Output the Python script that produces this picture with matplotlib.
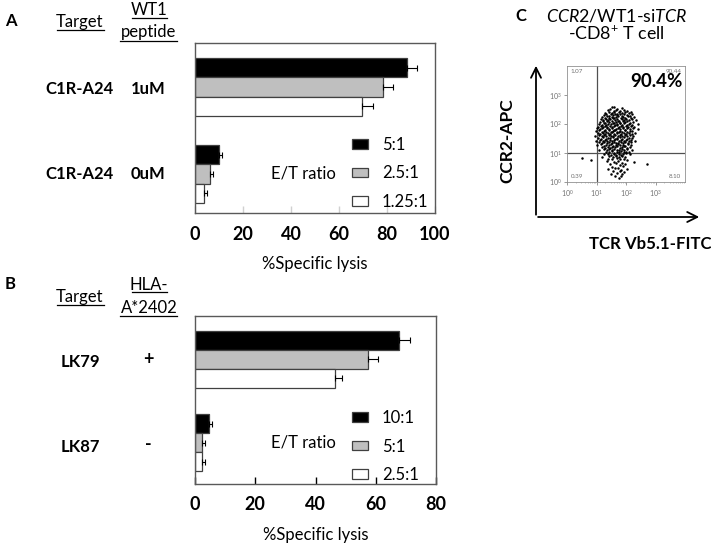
import numpy as np
import matplotlib
matplotlib.use("Agg")
import matplotlib.pyplot as plt
from matplotlib.patches import Patch, FancyArrowPatch
from matplotlib.lines import Line2D

plt.rcParams['font.family'] = ['Lato', 'DejaVu Sans']
plt.rcParams['mathtext.fontset'] = 'custom'
plt.rcParams['mathtext.rm'] = 'Lato'
plt.rcParams['mathtext.it'] = 'Lato:italic'
plt.rcParams['mathtext.bf'] = 'Lato:bold'

# ---------------- data ----------------
# Panel A
a_targets = ["C1R-A24", "C1R-A24"]
a_peptide = ["1uM", "0uM"]
a_ratios = ["5:1", "2.5:1", "1.25:1"]
a_values = [[88.2, 10.1], [78.2, 6.3], [69.5, 3.9]]
a_errors = [[4.2, 1.0], [4.4, 1.0], [4.5, 1.0]]
a_xticks = [0, 20, 40, 60, 80, 100]

# Panel B
b_targets = ["LK79", "LK87"]
b_hla = ["+", "-"]
b_ratios = ["10:1", "5:1", "2.5:1"]
b_values = [[67.8, 4.7], [57.5, 2.4], [46.5, 2.4]]
b_errors = [[3.6, 1.0], [3.1, 1.0], [2.4, 1.0]]
b_xticks = [0, 20, 40, 60, 80]

bar_colors = ["black", "#bfbfbf", "white"]

# Panel C: flow cytometry events as (log10 TCR Vb5.1-FITC, log10 CCR2-APC)
c_events = [
    (1.52, 2.57), (1.70, 2.53), (1.87, 2.56), (1.61, 2.60),
    (1.38, 2.47), (1.47, 2.51), (1.58, 2.46), (1.66, 2.50), (1.78, 2.45), (1.92, 2.49), (2.02, 2.44),
    (1.30, 2.38), (1.42, 2.42), (1.51, 2.37), (1.60, 2.41), (1.69, 2.36), (1.75, 2.43), (1.85, 2.39),
    (1.96, 2.41), (2.09, 2.37), (2.16, 2.42),
    (1.24, 2.31), (1.33, 2.34), (1.41, 2.29), (1.49, 2.33), (1.55, 2.30), (1.63, 2.35), (1.71, 2.30),
    (1.79, 2.33), (1.87, 2.29), (1.94, 2.34), (2.03, 2.31), (2.12, 2.28), (2.21, 2.33),
    (1.19, 2.25), (1.28, 2.21), (1.36, 2.26), (1.44, 2.22), (1.52, 2.25), (1.58, 2.20), (1.66, 2.24),
    (1.74, 2.27), (1.82, 2.22), (1.90, 2.25), (1.98, 2.21), (2.07, 2.26), (2.17, 2.22), (2.28, 2.24),
    (1.15, 2.17), (1.23, 2.14), (1.32, 2.18), (1.39, 2.13), (1.47, 2.16), (1.55, 2.19), (1.62, 2.14),
    (1.70, 2.17), (1.77, 2.12), (1.85, 2.18), (1.93, 2.14), (2.01, 2.17), (2.10, 2.13), (2.19, 2.18),
    (2.35, 2.15),
    (1.12, 2.07), (1.21, 2.10), (1.29, 2.05), (1.37, 2.09), (1.44, 2.06), (1.51, 2.10), (1.59, 2.04),
    (1.67, 2.08), (1.74, 2.11), (1.81, 2.05), (1.89, 2.09), (1.97, 2.06), (2.05, 2.10), (2.14, 2.05),
    (2.24, 2.08),
    (1.08, 2.01), (1.17, 1.98), (1.25, 2.02), (1.33, 1.97), (1.40, 2.01), (1.48, 1.99), (1.56, 2.03),
    (1.63, 1.97), (1.71, 2.00), (1.79, 2.03), (1.86, 1.98), (1.94, 2.02), (2.02, 1.97), (2.11, 2.01),
    (2.20, 1.98), (2.42, 2.00),
    (1.05, 1.91), (1.14, 1.94), (1.22, 1.89), (1.30, 1.93), (1.37, 1.90), (1.45, 1.94), (1.53, 1.89),
    (1.60, 1.92), (1.68, 1.95), (1.75, 1.90), (1.83, 1.93), (1.91, 1.89), (1.99, 1.94), (2.08, 1.90),
    (2.17, 1.93), (2.28, 1.91),
    (1.02, 1.85), (1.11, 1.82), (1.20, 1.86), (1.28, 1.81), (1.35, 1.85), (1.43, 1.83), (1.51, 1.87),
    (1.58, 1.81), (1.66, 1.84), (1.73, 1.87), (1.81, 1.82), (1.89, 1.86), (1.97, 1.81), (2.05, 1.85),
    (2.14, 1.83), (2.24, 1.86), (2.40, 1.84),
    (0.98, 1.75), (1.09, 1.78), (1.17, 1.73), (1.26, 1.77), (1.33, 1.74), (1.41, 1.78), (1.49, 1.73),
    (1.56, 1.76), (1.64, 1.79), (1.71, 1.74), (1.79, 1.77), (1.87, 1.73), (1.95, 1.78), (2.03, 1.74),
    (2.12, 1.77), (2.21, 1.75),
    (1.04, 1.69), (1.13, 1.66), (1.22, 1.70), (1.30, 1.65), (1.38, 1.69), (1.46, 1.67), (1.54, 1.71),
    (1.61, 1.65), (1.69, 1.68), (1.77, 1.71), (1.84, 1.66), (1.92, 1.70), (2.00, 1.65), (2.09, 1.69),
    (2.19, 1.67), (2.31, 1.70),
    (0.96, 1.59), (1.08, 1.62), (1.17, 1.57), (1.25, 1.61), (1.33, 1.58), (1.41, 1.62), (1.49, 1.57),
    (1.57, 1.60), (1.64, 1.63), (1.72, 1.58), (1.80, 1.61), (1.88, 1.57), (1.96, 1.62), (2.05, 1.58),
    (2.14, 1.61), (2.24, 1.59),
    (1.06, 1.53), (1.15, 1.50), (1.23, 1.54), (1.31, 1.49), (1.39, 1.53), (1.47, 1.51), (1.55, 1.55),
    (1.62, 1.49), (1.70, 1.52), (1.78, 1.55), (1.86, 1.50), (1.94, 1.54), (2.02, 1.49), (2.11, 1.53),
    (2.20, 1.51),
    (0.99, 1.43), (1.12, 1.46), (1.21, 1.41), (1.29, 1.45), (1.37, 1.42), (1.45, 1.46), (1.53, 1.41),
    (1.60, 1.44), (1.68, 1.47), (1.76, 1.42), (1.84, 1.45), (1.92, 1.41), (2.00, 1.46), (2.09, 1.42),
    (2.18, 1.45), (2.29, 1.43),
    (1.09, 1.37), (1.18, 1.34), (1.27, 1.38), (1.35, 1.33), (1.43, 1.37), (1.51, 1.35), (1.59, 1.39),
    (1.66, 1.33), (1.74, 1.36), (1.82, 1.39), (1.90, 1.34), (1.98, 1.38), (2.07, 1.33), (2.16, 1.37),
    (1.03, 1.27), (1.15, 1.30), (1.24, 1.25), (1.33, 1.29), (1.41, 1.26), (1.49, 1.30), (1.57, 1.25),
    (1.65, 1.28), (1.73, 1.31), (1.81, 1.26), (1.89, 1.29), (1.97, 1.25), (2.06, 1.30), (2.17, 1.27),
    (1.19, 1.21), (1.29, 1.18), (1.38, 1.22), (1.46, 1.17), (1.54, 1.21), (1.62, 1.19), (1.70, 1.23),
    (1.78, 1.17), (1.86, 1.20), (1.94, 1.23), (2.03, 1.18), (2.13, 1.21),
    (1.10, 1.11), (1.25, 1.14), (1.35, 1.09), (1.44, 1.13), (1.52, 1.10), (1.61, 1.14), (1.69, 1.09),
    (1.77, 1.12), (1.85, 1.15), (1.93, 1.10), (2.02, 1.13), (2.22, 1.11),
    (1.31, 1.05), (1.42, 1.02), (1.51, 1.06), (1.60, 1.01), (1.68, 1.05), (1.76, 1.03), (1.84, 1.07),
    (1.92, 1.02), (2.01, 1.05), (2.10, 1.03),
    (1.24, 0.95), (1.38, 0.98), (1.49, 0.93), (1.58, 0.97), (1.67, 0.94), (1.75, 0.98), (1.83, 0.93),
    (1.91, 0.96), (2.00, 0.99), (2.14, 0.95),
    (1.19, 0.87), (1.44, 0.90), (1.56, 0.86), (1.66, 0.89), (1.77, 0.85), (1.87, 0.90), (1.97, 0.87),
    (0.50, 0.83), (0.82, 0.77), (1.38, 0.81), (1.53, 0.78), (1.68, 0.82), (1.80, 0.79), (1.92, 0.81),
    (2.05, 0.77),
    (1.35, 0.71), (1.58, 0.68), (1.72, 0.72), (1.85, 0.67), (2.27, 0.70),
    (1.45, 0.61), (1.66, 0.64), (1.81, 0.60), (1.96, 0.63), (2.70, 0.62),
    (1.52, 0.53), (1.73, 0.50), (1.90, 0.55),
    (1.40, 0.45), (1.63, 0.47), (1.84, 0.43), (2.02, 0.46),
    (1.57, 0.37), (1.78, 0.39), (1.94, 0.35),
    (1.50, 0.28), (1.71, 0.30), (1.88, 0.26),
    (1.63, 0.20), (1.83, 0.22),
    (1.75, 0.13),
]
c_quadrants = ["1.07", "90.44", "0.39", "8.10"]
c_highlight = "90.4%"

# ---------------- figure ----------------
W, H = 711, 543
fig = plt.figure(figsize=(W / 100, H / 100), dpi=100)


def fx(x):
    return x / W


def fy(y):
    return 1 - y / H


def axes_px(l, t, r, b):
    return fig.add_axes([fx(l), fy(b), (r - l) / W, (b - t) / H])


def txt(x, y, s, **kw):
    kw.setdefault('va', 'baseline')
    fig.text(fx(x), fy(y), s, **kw)


def uline(x0, x1, y):
    fig.add_artist(Line2D([fx(x0), fx(x1)], [fy(y), fy(y)], color='black', lw=0.9,
                          transform=fig.transFigure))


def bar_panel(ax, values, errors, ratios, xticks, xmax, group_px, top_px, bot_px, bar_px,
              tick_color, legend_y):
    pitch = group_px[1] - group_px[0]
    off = bar_px / pitch
    ylim_top = -(group_px[0] - top_px) / pitch
    ylim_bot = ylim_top + (bot_px - top_px) / pitch
    pos = np.arange(len(values[0]))
    for i, (vals, errs) in enumerate(zip(values, errors)):
        y = pos + (i - 1) * off
        ax.barh(y, vals, height=off, color=bar_colors[i], edgecolor='#404040',
                linewidth=0.9, label=ratios[i], zorder=2)
        ax.errorbar(vals, y, xerr=[np.zeros(len(vals)), errs], fmt='none',
                    ecolor='black', elinewidth=0.8, capsize=2.2, capthick=0.8, zorder=3)
    ax.set_xlim(0, xmax)
    ax.set_ylim(ylim_bot, ylim_top)
    ax.set_yticks([])
    ax.set_xticks(xticks)
    ax.set_xticklabels([str(t) for t in xticks], fontsize=13, fontweight='bold')
    ax.tick_params(axis='x', direction='in', length=5, width=1, color=tick_color, pad=9)
    for sp in ax.spines.values():
        sp.set_color('#595959')
        sp.set_linewidth(1.0)
    handles = [Patch(facecolor=bar_colors[i], edgecolor='#404040', linewidth=0.9)
               for i in range(3)]
    ax.legend(handles, ratios, loc='upper left',
              bbox_to_anchor=(fx(352), fy(legend_y)), bbox_transform=fig.transFigure,
              frameon=False, fontsize=12, handlelength=0.95, handleheight=0.5,
              handletextpad=0.85, labelspacing=0.75, borderpad=0, borderaxespad=0)
    return ax


# Panel A
axA = axes_px(195, 43, 435, 213)
bar_panel(axA, a_values, a_errors, a_ratios, a_xticks, 100, (87, 174), 43, 213, 19.3,
          '#d0d0d0', 137)
# Panel B
axB = axes_px(195, 316, 436, 484)
bar_panel(axB, b_values, b_errors, b_ratios, b_xticks, 80, (359, 442.5), 316, 484, 19,
          'black', 410)

axA.set_xlabel("%Specific lysis", fontsize=12, labelpad=10)
axB.set_xlabel("%Specific lysis", fontsize=12, labelpad=10)

# Panel labels / headers
txt(5, 26, "A", fontsize=12, fontweight='bold')
txt(80, 27, "Target", fontsize=12, ha='center')
uline(57, 104, 29.5)
txt(149, 15, "WT1", fontsize=12, ha='center')
uline(132, 167, 17.5)
txt(149, 37.5, "peptide", fontsize=12, ha='center')
uline(120, 177, 40.5)
for g, (t, p) in enumerate(zip(a_targets, a_peptide)):
    yb = [94, 179][g]
    txt(79, yb, t, fontsize=12, fontweight='bold', ha='center')
    txt(148, yb, p, fontsize=12, fontweight='bold', ha='center')
txt(303, 179, "E/T ratio", fontsize=12, ha='center')

txt(5, 289, "B", fontsize=12, fontweight='bold')
txt(80, 302, "Target", fontsize=12, ha='center')
uline(57, 104, 304.5)
txt(149, 290, "HLA-", fontsize=12, ha='center')
uline(132, 167, 292)
txt(149, 313, "A*2402", fontsize=12, ha='center')
uline(120, 177, 315.5)
for g, (t, p) in enumerate(zip(b_targets, b_hla)):
    yb = [367, 452][g]
    txt(80, yb, t, fontsize=12, fontweight='bold', ha='center')
    txt(148, yb - 2, p, fontsize=13, fontweight='bold', ha='center')
txt(303, 448, "E/T ratio", fontsize=12, ha='center')

# Panel C
txt(515, 21, "C", fontsize=12, fontweight='bold')
txt(617, 21, r"$\mathit{CCR2}$/WT1-si$\mathit{TCR}$", fontsize=12.8, ha='center')
txt(616, 39, r"-CD8$^{+}$ T cell", fontsize=12.8, ha='center')

axC = axes_px(567, 66, 685, 182)
c_fitc = np.array([e[0] for e in c_events])
c_apc = np.array([e[1] for e in c_events])
axC.scatter(10 ** c_fitc, 10 ** c_apc, s=3.2, marker='o', color='black',
            linewidths=0, zorder=2)
axC.set_xscale('log')
axC.set_yscale('log')
axC.set_xlim(1, 1e4)
axC.set_ylim(1, 1e4)
axC.axvline(10, color='#505050', lw=0.9, zorder=1)
axC.axhline(10, color='#505050', lw=0.9, zorder=1)
axC.set_xticks([1, 10, 100, 1000])
axC.set_yticks([1, 10, 100, 1000])
axC.set_xticklabels([r"$10^0$", r"$10^1$", r"$10^2$", r"$10^3$"])
axC.set_yticklabels([r"$10^0$", r"$10^1$", r"$10^2$", r"$10^3$"])
axC.tick_params(axis='both', which='major', labelsize=5, colors='#707070', length=2,
                width=0.5, pad=2)
axC.tick_params(axis='both', which='minor', length=1, width=0.4, colors='#909090')
axC.tick_params(axis='y', which='minor', length=0)
for sp in axC.spines.values():
    sp.set_color('#909090')
    sp.set_linewidth(0.6)
qpos = [(0.03, 0.97, 'left', 'top'), (0.97, 0.97, 'right', 'top'),
        (0.03, 0.03, 'left', 'bottom'), (0.97, 0.03, 'right', 'bottom')]
for s, (x, y, ha, va) in zip(c_quadrants, qpos):
    axC.text(x, y, s, transform=axC.transAxes, fontsize=4.5, color='#707070', ha=ha, va=va)
txt(656, 87, c_highlight, fontsize=13.5, fontweight='bold', ha='center')

fig.add_artist(FancyArrowPatch((fx(536), fy(217.5)), (fx(536), fy(63)),
                               transform=fig.transFigure, arrowstyle='->,head_length=6,head_width=3',
                               mutation_scale=1.2, lw=1.3, color='black'))
fig.add_artist(FancyArrowPatch((fx(535.3), fy(217)), (fx(702), fy(217)),
                               transform=fig.transFigure, arrowstyle='->,head_length=6,head_width=3',
                               mutation_scale=1.2, lw=1.3, color='black'))
fig.text(fx(507), fy(141), "CCR2-APC", fontsize=12.5, fontweight='bold', rotation=90,
         ha='center', va='center')
txt(650, 249, "TCR Vb5.1-FITC", fontsize=12.1, fontweight='bold', ha='center')

fig.savefig("out.png", dpi=100)
